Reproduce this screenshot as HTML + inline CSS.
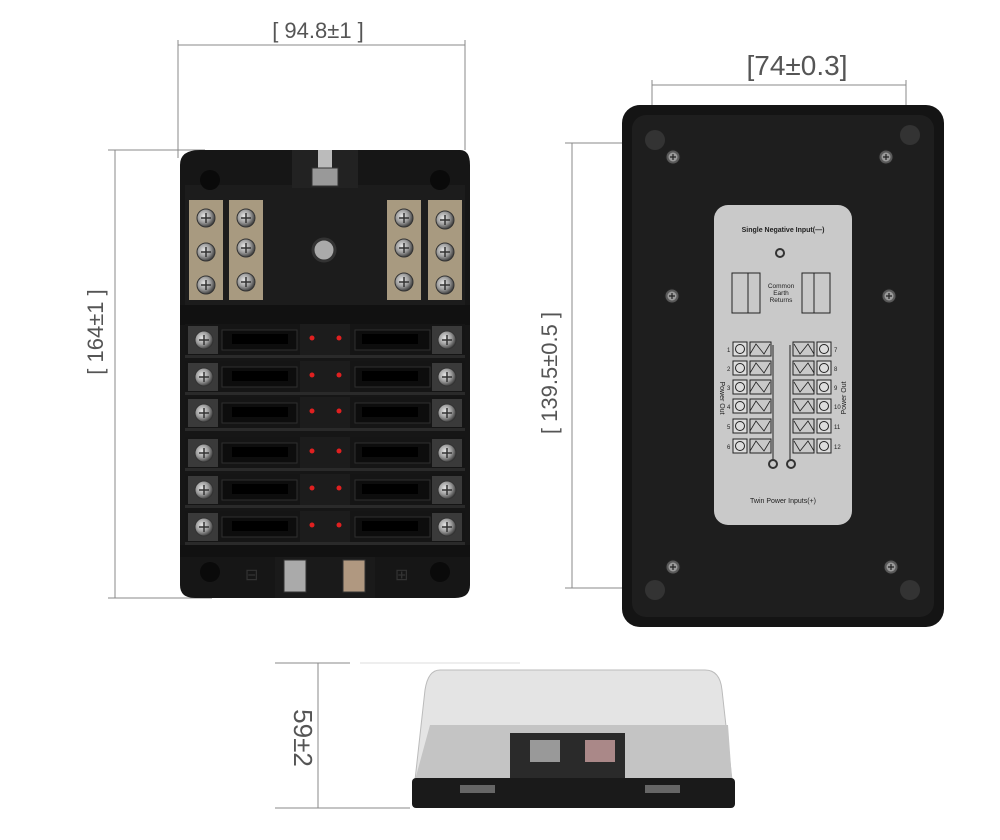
<!DOCTYPE html>
<html><head><meta charset="utf-8"><style>
html,body{margin:0;padding:0;background:#fff}
svg{display:block}
text{font-family:"Liberation Sans",sans-serif}
</style></head><body>
<svg width="1000" height="840" viewBox="0 0 1000 840" xmlns="http://www.w3.org/2000/svg">
<defs>
<radialGradient id="scr" cx="0.4" cy="0.4" r="0.6"><stop offset="0" stop-color="#e8e8e8"/><stop offset="0.6" stop-color="#9a9a9a"/><stop offset="1" stop-color="#444"/></radialGradient>
<g id="screw"><circle r="9" fill="url(#scr)" stroke="#333" stroke-width="1"/><path d="M-5 0H5M0 -5V5" stroke="#333" stroke-width="1.5"/></g>
<g id="sscrew"><circle r="7" fill="#5a5a5a" stroke="#222"/><circle r="4.5" fill="#9a9a9a"/><path d="M-3 0H3M0 -3V3" stroke="#222" stroke-width="1.2"/></g>
<g id="row">
 <rect x="185" y="-16" width="280" height="32" fill="#151515"/>
 <rect x="188" y="-14" width="30" height="28" fill="#3a3a3a"/>
 <use href="#screw" x="204" y="0"/>
 <rect x="222" y="-10" width="75" height="20" fill="#0d0d0d" stroke="#2e2e2e"/>
 <rect x="232" y="-6" width="56" height="10" fill="#000"/>
 <rect x="355" y="-10" width="75" height="20" fill="#0d0d0d" stroke="#2e2e2e"/>
 <rect x="362" y="-6" width="56" height="10" fill="#000"/>
 <rect x="300" y="-16" width="50" height="32" fill="#1c1c1c"/>
 <circle cx="312" cy="-2" r="2.5" fill="#e02020"/><circle cx="339" cy="-2" r="2.5" fill="#e02020"/>
 <rect x="432" y="-14" width="30" height="28" fill="#3a3a3a"/>
 <use href="#screw" x="447" y="0"/>
 <rect x="185" y="15" width="280" height="3" fill="#2a2a2a"/>
</g>
<g id="lrow">
 <rect x="0" y="-7" width="14" height="14" fill="#ddd" stroke="#222"/><circle cx="7" cy="0" r="4.5" fill="none" stroke="#222"/>
 <rect x="17" y="-7" width="21" height="14" fill="none" stroke="#222"/>
 <path d="M17 5 L23 -5 L31 5 L37 -5" fill="none" stroke="#222" stroke-width="0.8"/>
</g>
</defs>

<text x="318" y="38" font-size="22" fill="#555" text-anchor="middle">[ 94.8±1 ]</text>
<line x1="178" y1="45" x2="465" y2="45" stroke="#888" stroke-width="1"/>
<line x1="178" y1="40" x2="178" y2="158" stroke="#888"/>
<line x1="465" y1="40" x2="465" y2="150" stroke="#888"/>
<line x1="108" y1="150" x2="205" y2="150" stroke="#888"/>
<line x1="108" y1="598" x2="212" y2="598" stroke="#888"/>
<line x1="115" y1="150" x2="115" y2="598" stroke="#888"/>
<text transform="translate(103,332) rotate(-90)" font-size="22" fill="#555" text-anchor="middle">[ 164±1 ]</text>

<path d="M200 150 H460 Q470 150 470 165 V585 Q470 598 455 598 H195 Q180 598 180 585 V165 Q180 150 200 150Z" fill="#161616"/>
<rect x="185" y="185" width="280" height="120" fill="#1c1c1c"/>
<circle cx="210" cy="180" r="10" fill="#0a0a0a"/><circle cx="440" cy="180" r="10" fill="#0a0a0a"/>
<rect x="292" y="150" width="66" height="38" fill="#222"/>
<rect x="318" y="150" width="14" height="20" fill="#bbb"/><rect x="312" y="168" width="26" height="18" fill="#999" stroke="#333"/>
<circle cx="324" cy="250" r="11" fill="#aaa" stroke="#333" stroke-width="3"/>
<rect x="189" y="200" width="34" height="100" fill="#a89a80"/><rect x="229" y="200" width="34" height="100" fill="#a89a80"/>
<rect x="387" y="200" width="34" height="100" fill="#a89a80"/><rect x="428" y="200" width="34" height="100" fill="#a89a80"/>
<use href="#screw" x="206" y="218"/><use href="#screw" x="206" y="252"/><use href="#screw" x="206" y="285"/>
<use href="#screw" x="246" y="218"/><use href="#screw" x="246" y="248"/><use href="#screw" x="246" y="282"/>
<use href="#screw" x="404" y="218"/><use href="#screw" x="404" y="248"/><use href="#screw" x="404" y="282"/>
<use href="#screw" x="445" y="220"/><use href="#screw" x="445" y="252"/><use href="#screw" x="445" y="285"/>
<rect x="180" y="305" width="290" height="20" fill="#111"/>
<use href="#row" y="340"/><use href="#row" y="377"/><use href="#row" y="413"/><use href="#row" y="453"/><use href="#row" y="490"/><use href="#row" y="527"/>
<rect x="180" y="545" width="290" height="12" fill="#111"/>
<circle cx="210" cy="572" r="10" fill="#0a0a0a"/><circle cx="440" cy="572" r="10" fill="#0a0a0a"/>
<text x="245" y="580" font-size="16" fill="#333">⊟</text><text x="395" y="580" font-size="16" fill="#333">⊞</text>
<rect x="275" y="557" width="100" height="41" fill="#1a1a1a"/>
<rect x="284" y="560" width="22" height="32" fill="#aaa" stroke="#333"/><rect x="343" y="560" width="22" height="32" fill="#b09880" stroke="#333"/>

<text x="797" y="75" font-size="28" fill="#555" text-anchor="middle">[74±0.3]</text>
<line x1="652" y1="85" x2="906" y2="85" stroke="#888"/>
<line x1="652" y1="80" x2="652" y2="140" stroke="#888"/>
<line x1="906" y1="80" x2="906" y2="135" stroke="#888"/>
<line x1="565" y1="143" x2="655" y2="143" stroke="#888"/>
<line x1="565" y1="588" x2="655" y2="588" stroke="#888"/>
<line x1="572" y1="143" x2="572" y2="588" stroke="#888"/>
<text transform="translate(557,373) rotate(-90)" font-size="22" fill="#555" text-anchor="middle">[ 139.5±0.5 ]</text>

<rect x="622" y="105" width="322" height="522" rx="18" fill="#141414"/>
<rect x="632" y="115" width="302" height="502" rx="14" fill="#1e1e1e"/>
<circle cx="655" cy="140" r="10" fill="#333"/><circle cx="910" cy="135" r="10" fill="#333"/>
<circle cx="655" cy="590" r="10" fill="#333"/><circle cx="910" cy="590" r="10" fill="#333"/>
<use href="#sscrew" x="673" y="157"/><use href="#sscrew" x="886" y="157"/>
<use href="#sscrew" x="672" y="296"/><use href="#sscrew" x="889" y="296"/>
<use href="#sscrew" x="673" y="567"/><use href="#sscrew" x="891" y="567"/>
<rect x="714" y="205" width="138" height="320" rx="14" fill="#c9c9c9"/>
<text x="783" y="232" font-size="7" font-weight="bold" fill="#222" text-anchor="middle">Single Negative Input(—)</text>
<circle cx="780" cy="253" r="4" fill="none" stroke="#333" stroke-width="2"/>
<rect x="732" y="273" width="28" height="40" fill="none" stroke="#222"/><line x1="748" y1="273" x2="748" y2="313" stroke="#222"/>
<rect x="802" y="273" width="28" height="40" fill="none" stroke="#222"/><line x1="814" y1="273" x2="814" y2="313" stroke="#222"/>
<text x="781" y="288" font-size="6.5" fill="#222" text-anchor="middle">Common</text>
<text x="781" y="295" font-size="6.5" fill="#222" text-anchor="middle">Earth</text>
<text x="781" y="302" font-size="6.5" fill="#222" text-anchor="middle">Returns</text>
<g font-size="6" fill="#222">
<use href="#lrow" x="733" y="349"/><use href="#lrow" x="733" y="368"/><use href="#lrow" x="733" y="387"/><use href="#lrow" x="733" y="406"/><use href="#lrow" x="733" y="426"/><use href="#lrow" x="733" y="446"/>
<g transform="translate(831,0) scale(-1,1)"><use href="#lrow" x="0" y="349"/><use href="#lrow" x="0" y="368"/><use href="#lrow" x="0" y="387"/><use href="#lrow" x="0" y="406"/><use href="#lrow" x="0" y="426"/><use href="#lrow" x="0" y="446"/></g>
<text x="727" y="352">1</text><text x="727" y="371">2</text><text x="727" y="390">3</text><text x="727" y="409">4</text><text x="727" y="429">5</text><text x="727" y="449">6</text>
<text x="834" y="352">7</text><text x="834" y="371">8</text><text x="834" y="390">9</text><text x="834" y="409">10</text><text x="834" y="429">11</text><text x="834" y="449">12</text>
</g>
<line x1="773" y1="345" x2="773" y2="460" stroke="#222"/><line x1="790" y1="345" x2="790" y2="460" stroke="#222"/>
<circle cx="773" cy="464" r="4" fill="none" stroke="#333" stroke-width="2"/><circle cx="791" cy="464" r="4" fill="none" stroke="#333" stroke-width="2"/>
<text transform="translate(720,398) rotate(90)" font-size="7" fill="#222" text-anchor="middle">Power Out</text>
<text transform="translate(846,398) rotate(-90)" font-size="7" fill="#222" text-anchor="middle">Power Out</text>
<text x="783" y="503" font-size="7" fill="#222" text-anchor="middle">Twin Power Inputs(+)</text>

<line x1="275" y1="663" x2="350" y2="663" stroke="#888"/>
<line x1="360" y1="663" x2="520" y2="663" stroke="#ddd"/>
<line x1="275" y1="808" x2="410" y2="808" stroke="#888"/>
<line x1="318" y1="663" x2="318" y2="808" stroke="#888"/>
<text transform="translate(294,738) rotate(90)" font-size="26" fill="#555" text-anchor="middle">59±2</text>
<path d="M440 670 H705 Q720 670 722 690 L732 780 H415 L425 690 Q428 670 440 670Z" fill="#e4e4e4" stroke="#bbb"/>
<path d="M430 725 H728 L732 780 H415Z" fill="#c4c4c4"/>
<rect x="510" y="733" width="115" height="50" fill="#2a2a2a"/>
<rect x="530" y="740" width="30" height="22" fill="#999"/><rect x="585" y="740" width="30" height="22" fill="#a88"/>
<rect x="412" y="778" width="323" height="30" rx="4" fill="#1a1a1a"/>
<rect x="460" y="785" width="35" height="8" fill="#666"/><rect x="645" y="785" width="35" height="8" fill="#666"/>
</svg>
</body></html>
